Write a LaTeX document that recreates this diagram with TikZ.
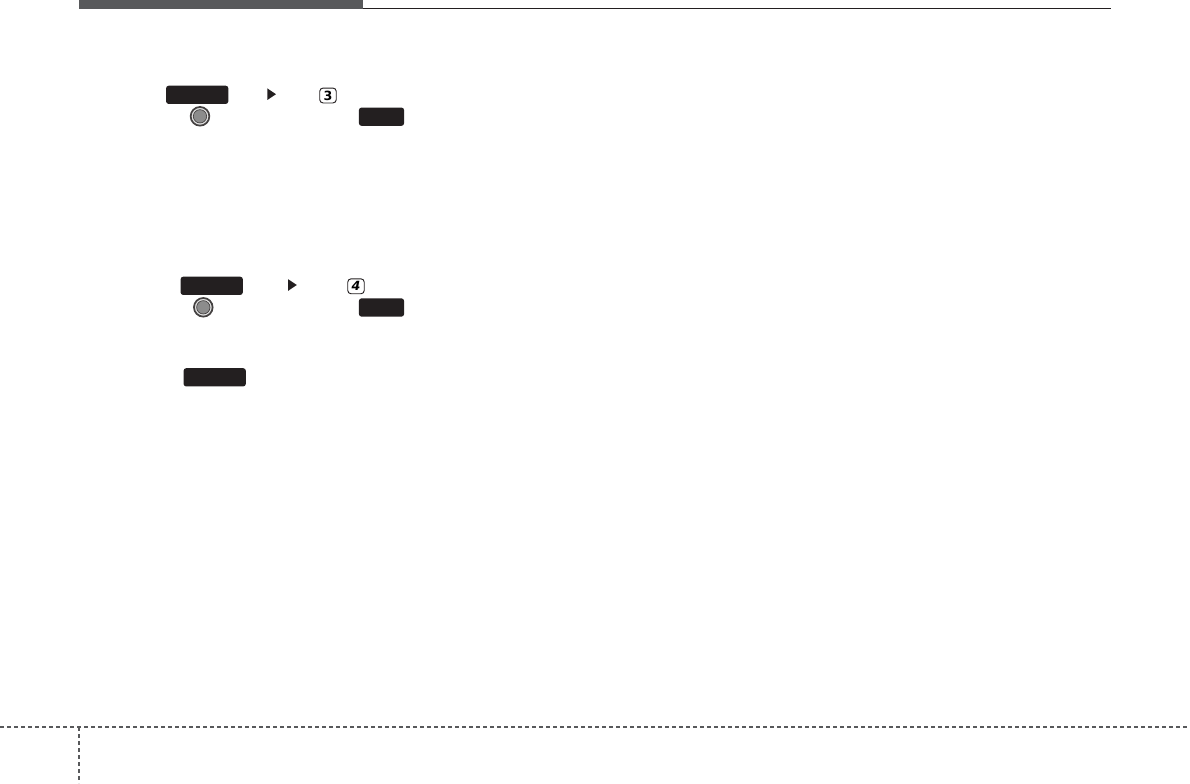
\documentclass[tikz,border=0pt]{standalone}
\usepackage{fontspec}
\newfontfamily\digitfont{DejaVu Sans}
\usetikzlibrary{shapes.geometric}
\definecolor{barGray}{HTML}{58595B}
\definecolor{keyBlack}{HTML}{231F20}
\tikzset{
	keybtn/.style={draw=none, fill=keyBlack, rounded corners=1.8pt, inner sep=0pt, minimum height=13.6pt, minimum width=#1},
	knobring/.style={circle, draw=keyBlack!85, line width=1.3pt, fill=black!12, inner sep=0pt, minimum size=14pt},
	knobcore/.style={circle, draw=keyBlack!85, line width=0.5pt, fill=black!45, inner sep=0pt, minimum size=10pt},
	pointer/.style={isosceles triangle, isosceles triangle apex angle=68, fill=keyBlack, inner sep=0pt, minimum height=6.4pt, minimum width=8.6pt},
	numbox/.style={draw=keyBlack, line width=0.7pt, rounded corners=2.5pt, inner sep=0pt, minimum width=12.4pt, minimum height=11.2pt, font=\digitfont\bfseries\fontsize{9.5}{9.5}\selectfont},
	footdash/.style={color=barGray, line width=1.5pt, dash pattern=on 3pt off 2.25pt}
}
\begin{document}
\begin{tikzpicture}[x=0.75pt, y=-0.75pt]
		%%%%% START %%%%%
		\useasboundingbox (0, 0) rectangle (1190, 783);
		
		\fill[barGray] (79, 0) rectangle (363, 8.7);
		\draw[line width=0.75pt, color=keyBlack] (363, 8.2) -- (1111, 8.2);
		
		\node[keybtn=46.6pt] (menuA) at (197.2, 94.8) {};
		\node[pointer] (pointerA) at (270.5, 94.2) {};
		\node[numbox] (numA) at (328, 95.5) {3};
		\node[knobring] (knobA) at (200, 116.3) {};
		\node[knobcore] at (knobA) {};
		\node[keybtn=33.8pt] (setA) at (381.5, 116.7) {};
		
		\node[keybtn=46.6pt] (menuB) at (211.7, 285.8) {};
		\node[pointer] (pointerB) at (291.3, 285) {};
		\node[numbox] (numB) at (356, 286.3) {\itshape 4};
		\node[knobring] (knobB) at (203.3, 307.3) {};
		\node[knobcore] at (knobB) {};
		\node[keybtn=33.8pt] (setB) at (381.5, 307.5) {};
		
		\node[keybtn=46.6pt] (menuC) at (214.7, 377.3) {};
		
		\draw[footdash] (0, 727) -- (1190, 727);
		\draw[footdash] (79, 727) -- (79, 783);
		%%%%% END %%%%%
	\end{tikzpicture}
\end{document}
